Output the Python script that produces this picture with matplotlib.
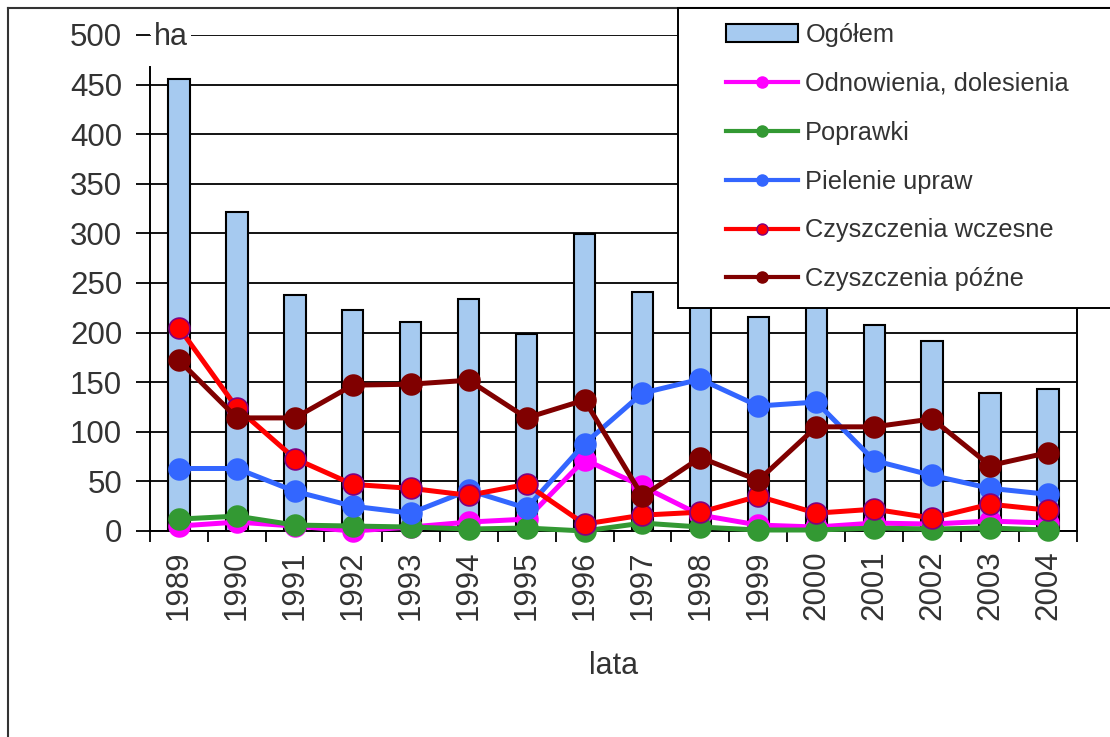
import numpy as np
import matplotlib.pyplot as plt
from matplotlib.patches import Rectangle, Patch
from matplotlib.lines import Line2D

plt.rcParams['font.family'] = ['Liberation Sans', 'DejaVu Sans']

years = [str(y) for y in range(1989, 2005)]
ogolem = [456, 322, 238, 223, 211, 234, 199, 299, 241, 240, 216, 235, 208, 192, 139, 143]
odnowienia = [5, 9, 5, 0, 4, 9, 12, 72, 45, 16, 6, 4, 8, 7, 10, 8]
poprawki = [12, 15, 6, 5, 4, 2, 3, 0, 8, 4, 1, 1, 3, 2, 3, 1]
pielenie = [63, 63, 40, 25, 18, 41, 23, 88, 139, 153, 126, 130, 71, 56, 43, 37]
czysz_wczesne = [205, 124, 73, 47, 43, 36, 47, 7, 16, 19, 35, 18, 22, 13, 27, 21]
czysz_pozne = [172, 114, 114, 147, 148, 152, 114, 132, 35, 74, 51, 105, 105, 113, 66, 79]

labels = ['Ogółem', 'Odnowienia, dolesienia', 'Poprawki', 'Pielenie upraw',
          'Czyszczenia wczesne', 'Czyszczenia późne']
line_colors = ['#ff00ff', '#339933', '#3366ff', '#ff0000', '#800000']
bar_color = '#a6caf0'
txt = '#333333'

W, H = 1110, 737
fig = plt.figure(figsize=(W / 100, H / 100), dpi=100)
ax = fig.add_axes([150 / W, 1 - 531 / H, 927 / W, 496 / H])

x = np.arange(len(years))
ax.bar(x, ogolem, width=0.37, color=bar_color, edgecolor='black', linewidth=1.5, zorder=2)

series = [odnowienia, poprawki, pielenie, czysz_wczesne, czysz_pozne]
for i, (s, c) in enumerate(zip(series, line_colors)):
    mec = '#800080' if c == '#ff0000' else c
    ax.plot(x, s, color=c, lw=3.6, marker='o', ms=15, mfc=c, mec=mec, mew=1.2,
            zorder=3 + i, clip_on=False)

ax.set_xlim(-0.5, len(years) - 0.5)
ax.set_ylim(0, 500)
ax.set_yticks(range(0, 501, 50))
ax.set_axisbelow(True)
ax.yaxis.grid(True, color='black', lw=1.3)

ax.spines['top'].set_visible(False)
for sp in ['left', 'right', 'bottom']:
    ax.spines[sp].set_linewidth(1.4)
ax.spines['left'].set_bounds(0, 468)

ax.tick_params(axis='y', direction='out', length=10, width=1.3, labelsize=22.5, pad=10,
               colors='black', labelcolor=txt)
ax.set_xticks(x)
ax.set_xticklabels(years, rotation=90)
ax.set_xticks(np.arange(-0.5, len(years)), minor=True)
ax.tick_params(axis='x', which='major', length=0, labelsize=22.5, pad=14, labelcolor=txt)
ax.tick_params(axis='x', which='minor', direction='out', length=8, width=1.3)
ax.set_xlabel('lata', fontsize=22, labelpad=22, color=txt)

# jednostka osi
fig.text(154 / W, 1 - 37 / H, 'ha', fontsize=22, color=txt, ha='left', va='center',
         bbox=dict(facecolor='white', edgecolor='none', pad=2))

# ramka wykresu
fig.add_artist(Line2D([8 / W, 8 / W], [1 - 8 / H, 0], color='#333333', lw=1.5))
fig.add_artist(Line2D([8 / W, 1], [1 - 8 / H, 1 - 8 / H], color='#333333', lw=1.5))

# legenda
fig.add_artist(Rectangle((678 / W, 1 - 308 / H), (W + 10 - 678) / W, 300 / H,
                         transform=fig.transFigure, facecolor='white', edgecolor='black',
                         lw=1.4, zorder=10))
handles = [Patch(facecolor=bar_color, edgecolor='black', lw=1.5)]
for c in line_colors:
    mec = '#800080' if c == '#ff0000' else c
    handles.append(Line2D([], [], color=c, lw=3, marker='o', ms=8, mfc=c, mec=mec))
leg = fig.legend(handles, labels, loc='upper left', bbox_to_anchor=(726 / W, 1 - 23 / H),
                 frameon=False, fontsize=18.25, handlelength=2.85, handleheight=0.68,
                 handletextpad=0.28, labelspacing=0.98, borderaxespad=0, borderpad=0)
leg.set_zorder(11)
for t in leg.get_texts():
    t.set_color(txt)

fig.savefig('out.png', dpi=100)
